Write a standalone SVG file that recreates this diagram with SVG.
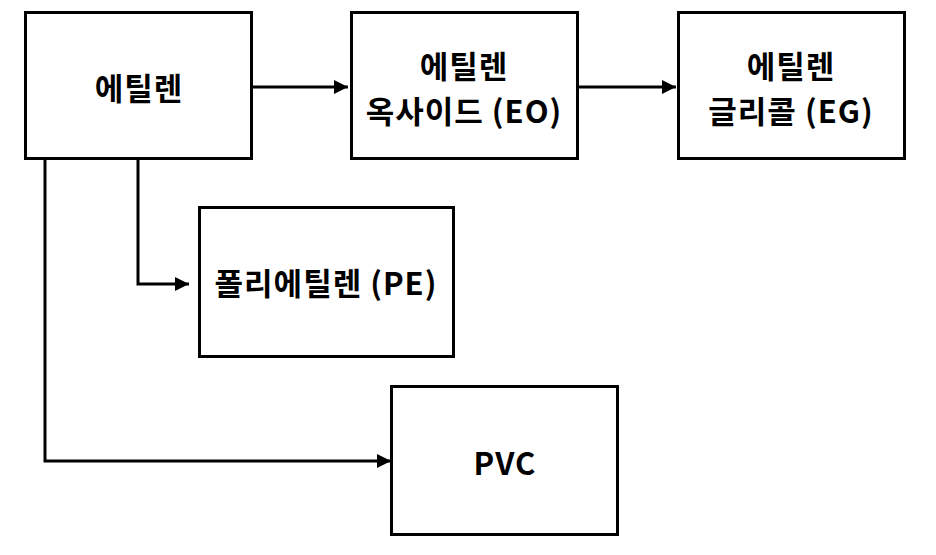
<svg xmlns="http://www.w3.org/2000/svg" width="936" height="555" viewBox="0 0 936 555">
<style>
.box{fill:#fff;stroke:#000;stroke-width:3}
.lbl{font-family:"Noto Sans CJK KR","Liberation Sans",sans-serif;font-weight:bold;font-size:31px;letter-spacing:1px;fill:#000;text-anchor:middle;dominant-baseline:central}
.conn{fill:none;stroke:#000;stroke-width:3}
</style>
<defs>
<marker id="arr" markerWidth="14" markerHeight="14" refX="14" refY="7" orient="auto" markerUnits="userSpaceOnUse">
<path d="M0,0 L14,7 L0,14 Z" fill="#000"/>
</marker>
</defs>
<rect width="936" height="555" fill="#fff"/>
<g id="connectors">
<path class="conn" d="M252,87 H348" marker-end="url(#arr)"/>
<path class="conn" d="M578,87 H676" marker-end="url(#arr)"/>
<path class="conn" d="M138,159 V284 H189" marker-end="url(#arr)"/>
<path class="conn" d="M45,159 V461 H391" marker-end="url(#arr)"/>
</g>
<g id="ethylene">
<rect class="box" x="25.5" y="12.5" width="226" height="146"/>
<text class="lbl" x="139" y="86">에틸렌</text>
</g>
<g id="eo">
<rect class="box" x="351.5" y="12.5" width="226" height="146"/>
<text class="lbl" x="464" y="64">에틸렌</text>
<text class="lbl" x="464" y="109">옥사이드 (EO)</text>
</g>
<g id="eg">
<rect class="box" x="678.5" y="12.5" width="226" height="146"/>
<text class="lbl" x="791" y="64">에틸렌</text>
<text class="lbl" x="791" y="109">글리콜 (EG)</text>
</g>
<g id="pe">
<rect class="box" x="199.5" y="207.5" width="254" height="149"/>
<text class="lbl" x="326" y="281">폴리에틸렌 (PE)</text>
</g>
<g id="pvc">
<rect class="box" x="391.5" y="386.5" width="226" height="148"/>
<text class="lbl" x="505" y="461">PVC</text>
</g>
</svg>
